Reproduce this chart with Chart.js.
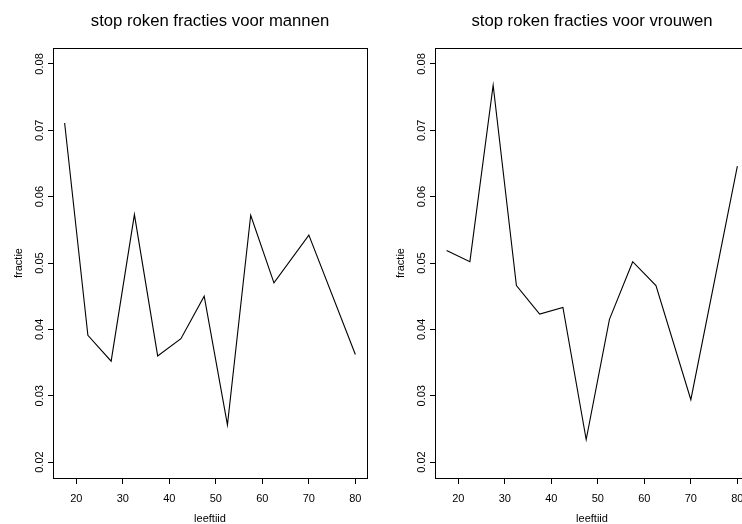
<!DOCTYPE html>
<html>
<head>
<meta charset="utf-8">
<script src="https://cdn.jsdelivr.net/npm/chart.js@4"></script>
<style>
  html, body { margin: 0; padding: 0; background: #fff; overflow: hidden; }
  #wrap { position: relative; width: 742px; height: 524px; overflow: hidden; }
  canvas { position: absolute; top: 0; }
</style>
</head>
<body>
<div id="wrap">
  <canvas id="mannen" width="371" height="524" style="left:0px"></canvas>
  <canvas id="vrouwen" width="371" height="524" style="left:382px"></canvas>
</div>
<script>
// leeftijdsklassen (midden van de klasse)
const leeftijd = [17.5, 22.5, 27.5, 32.5, 37.5, 42.5, 47.5, 52.5, 57.5, 62.5, 70, 80];
const fractieMannen = [0.0711, 0.0391, 0.0352, 0.0573, 0.0360, 0.0386, 0.0450, 0.0256, 0.0572, 0.0470, 0.0542, 0.0362];
const fractieVrouwen = [0.0519, 0.0502, 0.0768, 0.0466, 0.0423, 0.0433, 0.0234, 0.0415, 0.0502, 0.0466, 0.0294, 0.0646];
const xTicks = [20, 30, 40, 50, 60, 70, 80];
const yTicks = [0.02, 0.03, 0.04, 0.05, 0.06, 0.07, 0.08];
const titelMannen = 'stop roken fracties voor mannen';
const titelVrouwen = 'stop roken fracties voor vrouwen';
const xLabel = 'leeftiid';
const yLabel = 'fractie';

const lettertype = '"Liberation Sans", Arial, Helvetica, sans-serif';

// teksten en kader zoals in R
const tekstPlugin = {
  id: 'tekst',
  afterDraw(chart, args, opts) {
    const { ctx, chartArea: a } = chart;
    const x = chart.scales.x, y = chart.scales.y;
    ctx.save();
    ctx.strokeStyle = '#000';
    ctx.lineWidth = 1;
    ctx.strokeRect(Math.round(a.left) + 0.5, Math.round(a.top) + 0.5,
      Math.round(a.right - a.left), Math.round(a.bottom - a.top));

    ctx.fillStyle = '#000';
    ctx.textAlign = 'center';
    ctx.textBaseline = 'alphabetic';
    ctx.font = '16.7px ' + lettertype;
    ctx.fillText(opts.titel, (a.left + a.right) / 2, 26);

    ctx.font = '11px ' + lettertype;
    xTicks.forEach(v => ctx.fillText(String(v), x.getPixelForValue(v), 502));
    ctx.fillText(xLabel, (a.left + a.right) / 2, 522);

    yTicks.forEach(v => {
      ctx.save();
      ctx.translate(43, y.getPixelForValue(v));
      ctx.rotate(-Math.PI / 2);
      ctx.fillText(v.toFixed(2), 0, 0);
      ctx.restore();
    });
    ctx.save();
    ctx.translate(22, (a.top + a.bottom) / 2);
    ctx.rotate(-Math.PI / 2);
    ctx.fillText(yLabel, 0, 0);
    ctx.restore();
    ctx.restore();
  }
};

function maakGrafiek(id, waarden, titel) {
  const punten = leeftijd.map((l, i) => ({ x: l, y: waarden[i] }));
  return new Chart(document.getElementById(id).getContext('2d'), {
    type: 'line',
    data: {
      datasets: [{
        data: punten,
        borderColor: '#000',
        borderWidth: 1.1,
        pointRadius: 0,
        tension: 0,
        fill: false
      }]
    },
    options: {
      responsive: false,
      animation: false,
      devicePixelRatio: 1,
      layout: { padding: { top: 48, right: 4, left: 0, bottom: 0 } },
      plugins: {
        legend: { display: false },
        tooltip: { enabled: false },
        tekst: { titel: titel }
      },
      scales: {
        x: {
          type: 'linear',
          min: 15,
          max: 82.5,
          afterBuildTicks: s => { s.ticks = xTicks.map(v => ({ value: v })); },
          afterFit: s => { s.height = 46; },
          ticks: { display: false },
          grid: { drawOnChartArea: false, drawTicks: true, tickLength: 6, color: '#000' },
          border: { display: true, color: '#000', width: 1 }
        },
        y: {
          type: 'linear',
          min: 0.0176,
          max: 0.0824,
          afterBuildTicks: s => { s.ticks = yTicks.map(v => ({ value: v })); },
          afterFit: s => { s.width = 53; },
          ticks: { display: false },
          grid: { drawOnChartArea: false, drawTicks: true, tickLength: 5, color: '#000' },
          border: { display: true, color: '#000', width: 1 }
        }
      }
    },
    plugins: [tekstPlugin]
  });
}

maakGrafiek('mannen', fractieMannen, titelMannen);
maakGrafiek('vrouwen', fractieVrouwen, titelVrouwen);
</script>
</body>
</html>
